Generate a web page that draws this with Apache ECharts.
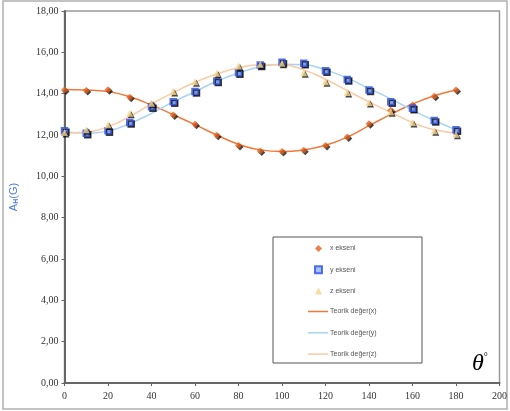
<!DOCTYPE html>
<html><head><meta charset="utf-8">
<script src="https://cdn.jsdelivr.net/npm/echarts@6/dist/echarts.min.js"></script>
<style>html,body{margin:0;padding:0;background:#fff}#c{width:510px;height:411px}</style>
</head><body><div id="c"></div>
<script>
const angles = [0,10,20,30,40,50,60,70,80,90,100,110,120,130,140,150,160,170,180];
const xMeasured = [14.18,14.15,14.19,13.83,13.49,12.97,12.52,11.99,11.49,11.23,11.2,11.26,11.49,11.9,12.54,13.2,13.45,13.88,14.18];
const yMeasured = [12.21,12.09,12.21,12.6,13.37,13.61,14.1,14.61,15.01,15.39,15.52,15.47,15.11,14.68,14.18,13.61,13.29,12.7,12.25];
const zMeasured = [12.12,12.25,12.49,13.05,13.54,14.1,14.58,14.99,15.34,15.42,15.47,15.01,14.58,14.06,13.57,13.13,12.6,12.21,12.04];
const xTheory = [14.2,14.18,14.1,13.85,13.45,12.98,12.5,12.0,11.55,11.28,11.2,11.28,11.5,11.9,12.45,13.0,13.5,13.9,14.18];
const yTheory = [12.15,12.1,12.2,12.55,13.05,13.6,14.1,14.6,15.0,15.3,15.42,15.4,15.15,14.75,14.25,13.75,13.2,12.7,12.25];
const zTheory = [12.1,12.15,12.4,12.9,13.5,14.05,14.55,14.95,15.25,15.4,15.4,15.15,14.7,14.15,13.6,13.1,12.6,12.25,12.1];
const names = ['x ekseni','y ekseni','z ekseni','Teorik değer(x)','Teorik değer(y)','Teorik değer(z)'];

const pairs = a => angles.map((d,i)=>[d,a[i]]);
const shadow = {shadowColor:'rgba(0,0,0,0.9)',shadowBlur:0,shadowOffsetX:1.5,shadowOffsetY:1.5};
const legText = {fontFamily:'Liberation Sans',fontSize:7,color:'#555',lineHeight:9};
const chart = echarts.init(document.getElementById('c'), null, {renderer:'canvas'});
chart.setOption({
  animation:false,
  backgroundColor:'#fff',
  grid:{left:63,right:7,top:11,bottom:28,show:true,borderColor:'#9a9a9a',borderWidth:1.5},
  xAxis:{type:'value',min:0,max:200,interval:20,
    axisLine:{show:true,onZero:false,lineStyle:{color:'#666',width:2}},
    axisTick:{show:true,length:3,lineStyle:{color:'#666'}},
    splitLine:{show:false},
    axisLabel:{fontFamily:'Liberation Serif',fontSize:10,color:'#333',margin:8}},
  yAxis:{type:'value',min:0,max:18,interval:2,
    name:'{a|A}{s|H}{a|(G)}',nameLocation:'middle',nameGap:45,nameRotate:90,
    nameTextStyle:{rich:{a:{fontFamily:'Liberation Sans',fontSize:11,color:'#4a78f0'},s:{fontFamily:'Liberation Sans',fontSize:7,fontWeight:'bold',color:'#4a78f0',verticalAlign:'bottom',padding:[5,0,0,0]}}},
    axisLine:{show:true,lineStyle:{color:'#666',width:2}},
    axisTick:{show:true,length:3,lineStyle:{color:'#666'}},
    splitLine:{show:false},
    axisLabel:{fontFamily:'Liberation Serif',fontSize:10,color:'#333',margin:6,formatter:v=>v.toFixed(2).replace('.',',')}},
  legend:[
    {orient:'vertical',left:309,top:239,itemWidth:7,itemHeight:7,itemGap:12.3,
     textStyle:Object.assign({padding:[0,0,0,3]},legText),data:names.slice(0,3)},
    {orient:'vertical',left:303,top:302,itemWidth:20,itemHeight:1.5,itemGap:12.3,icon:'rect',
     textStyle:Object.assign({padding:[0,0,0,-3]},legText),data:names.slice(3)}
  ],
  graphic:[
    {type:'rect',shape:{x:273,y:237,width:149,height:126},style:{fill:'none',stroke:'#555',lineWidth:1},z:-1},
    {type:'rect',shape:{x:3,y:1,width:504,height:408},style:{fill:'none',stroke:'#b0b0b0',lineWidth:1.5},z:-1},
    {type:'text',left:472,top:352,style:{text:'{t|θ}{d|°}',rich:{t:{fontFamily:'Liberation Serif',fontStyle:'italic',fontSize:24,color:'#000'},d:{fontFamily:'Liberation Serif',fontSize:10,color:'#333',verticalAlign:'top'}}}}
  ],
  series:[
    {name:names[3],type:'line',smooth:true,showSymbol:false,symbol:'none',data:pairs(xTheory),lineStyle:{color:'#f07a3c',width:1.5},itemStyle:{color:'#f07a3c'},z:1},
    {name:names[4],type:'line',smooth:true,showSymbol:false,symbol:'none',data:pairs(yTheory),lineStyle:{color:'#a9d2f7',width:1.5},itemStyle:{color:'#a9d2f7'},z:1},
    {name:names[5],type:'line',smooth:true,showSymbol:false,symbol:'none',data:pairs(zTheory),lineStyle:{color:'#fcc9a3',width:1.5},itemStyle:{color:'#fcc9a3'},z:1},
    {name:names[0],type:'scatter',symbol:'diamond',symbolSize:7,data:pairs(xMeasured),itemStyle:Object.assign({color:'#e8621c'},shadow),z:3},
    {name:names[1],type:'scatter',symbol:'rect',symbolSize:6,data:pairs(yMeasured),itemStyle:Object.assign({color:'#8fb2ff',borderColor:'#2c4ff0',borderWidth:1.5},shadow),z:3},
    {name:names[2],type:'scatter',symbol:'triangle',symbolSize:7,data:pairs(zMeasured),itemStyle:Object.assign({color:'#f3d588'},shadow),z:3}
  ]
});
</script></body></html>
